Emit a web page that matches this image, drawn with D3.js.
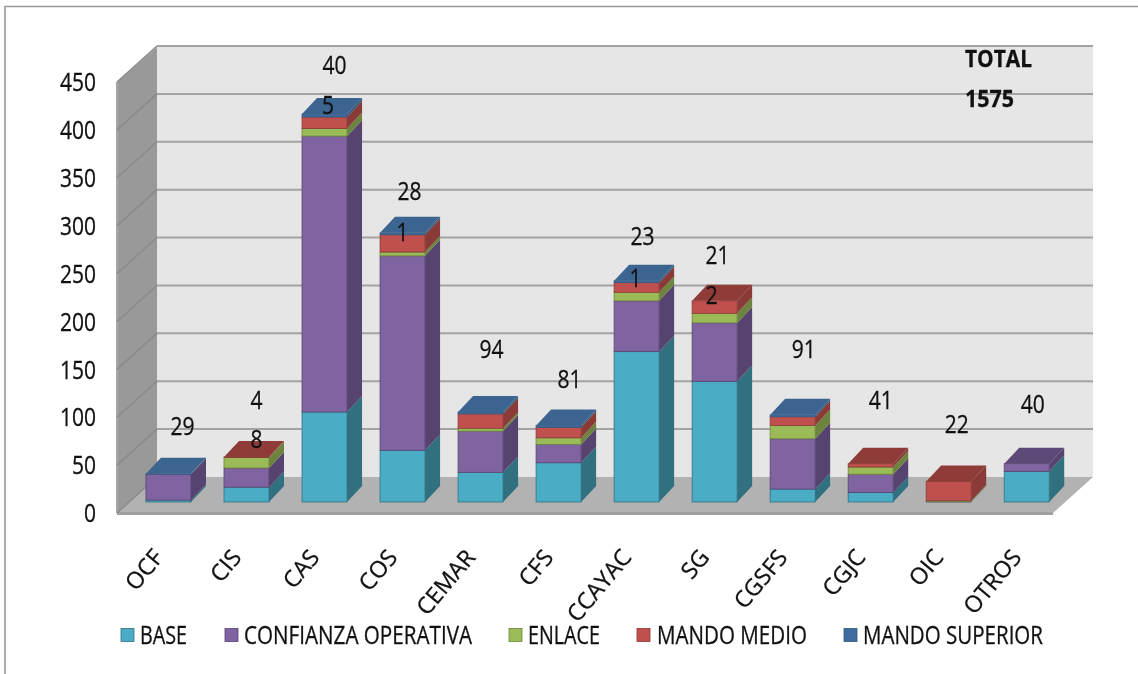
<!DOCTYPE html>
<html><head><meta charset="utf-8">
<script src="https://cdn.jsdelivr.net/npm/d3@7/dist/d3.min.js"></script>
<style>html,body{margin:0;padding:0;background:#fff;overflow:hidden}
svg{display:block;filter:blur(0.45px)}
text{font-family:"Open Sans",sans-serif;fill:#111;stroke:#111;stroke-width:.3px}</style>
</head><body><svg id="c" width="1138" height="674"></svg>
<script>
const categories = ["OCF","CIS","CAS","COS","CEMAR","CFS","CCAYAC","SG","CGSFS","CGJC","OIC","OTROS"];
const seriesNames = ["BASE","CONFIANZA OPERATIVA","ENLACE","MANDO MEDIO","MANDO SUPERIOR"];
const base      = [2,15.5,94,54,31,41,157,126,13.5,10,0,32];
const confianza = [27,20,288,203,43,19,53,61,52.5,19,0.3,8];
const enlace    = [0,11,8,4,3,7,9,10,14,7.5,1,0];
const medio     = [0,0.5,12,18,15,11,10,13,9,3.5,20,0];
const superior  = [0.4,0,3,2,2,2,2,0,2,0,0,0];
const topLabels = ["29","4","40","28","94","81","23","21","91","41","22","40"];
const topLabelLevels = [79,106.5,456,324,159,128,277,258,159,106,81,102];
const innerLabels = ["","8","5","1","","","1","2","","","",""];
const innerLabelLevels = [0,65,414,282,0,0,234,216,0,0,0,0];
const yTicks = [0,50,100,150,200,250,300,350,400,450];
const totalLines = ["TOTAL","1575"];

const colors = ["#4BACC6","#8064A2","#9BBB59","#C0504D","#3F6B9E"];
const sideColors = ["#30707F","#57436F","#6C843D","#8A3A37","#34597F"];
const topColors = ["#30707F","#5E4A78","#6C843D","#8F3B38","#3C6491"];
const legendGeom = [[121,140,47],[225,244,228],[509,528,72],[637,657,150],[844,863,180]];
const labelDx = [14,10,10,7,11,11,6,3,11,10,8,6];
const innerDx = [0,10,3.5,0,0,0,-1,-3,0,0,0,0];

const svg = d3.select("#c");
function squeeze(sel,f){ sel.each(function(){ const n=this.getComputedTextLength(); d3.select(this).attr("textLength",n*f).attr("lengthAdjust","spacingAndGlyphs"); }); return sel; }
svg.append("path").attr("d","M5,674V6.5H1138").attr("fill","none").attr("stroke","#999").attr("stroke-width",1.6);

const x0=117, xBack=157, dW=40, dH=36, yFloorFront=513, yTop=82;
const yAxisScale = d3.scaleLinear().domain([0,450]).range([yFloorFront,yTop]);
const xRight = 1053;
const g = svg.append("g");
g.append("polygon").attr("points",[[x0,yFloorFront],[xBack,yFloorFront-dH],[xBack,yTop-dH+1],[x0,yTop]].join(" ")).attr("fill","#999999");
g.append("polygon").attr("points",[[xBack,yFloorFront-dH],[xRight+dW,yFloorFront-dH],[xRight+dW,yTop-dH+1],[xBack,yTop-dH+1]].join(" ")).attr("fill","#E6E6E6");
g.append("polygon").attr("points",[[x0,yFloorFront],[xRight,yFloorFront],[xRight+dW,yFloorFront-dH],[xBack,yFloorFront-dH]].join(" ")).attr("fill","#B2B2B2");
g.append("line").attr("x1",x0).attr("x2",xRight).attr("y1",yFloorFront+.5).attr("y2",yFloorFront+.5).attr("stroke","#A0A0A0").attr("stroke-width",3);
g.append("line").attr("x1",x0).attr("x2",x0).attr("y1",yTop).attr("y2",yFloorFront).attr("stroke","#A6A6A6").attr("stroke-width",2);
yTicks.forEach(t=>{
  const y=yAxisScale(t);
  if(t>0) g.append("line").attr("x1",xBack).attr("x2",xRight+dW).attr("y1",y-dH).attr("y2",y-dH).attr("stroke","#A3A3A3").attr("stroke-width",2);
  g.append("line").attr("x1",x0).attr("y1",y).attr("x2",xBack).attr("y2",y-dH).attr("stroke","#8a8a8a").attr("stroke-width",1.5);
});
const axis = svg.append("g").attr("transform",`translate(103,0)`).call(d3.axisLeft(yAxisScale).tickValues(yTicks).tickSize(0).tickPadding(7));
axis.select(".domain").remove();
axis.selectAll("text").style("font-size","25px").style("font-family",'"Open Sans",sans-serif').attr("fill","#111").attr("dy","0.35em");
squeeze(axis.selectAll("text"),0.84);

const xBand = d3.scaleBand().domain(categories).range([129.6,1065.6]).paddingInner(33/78).paddingOuter(0.21);
const barW = xBand.bandwidth();
const y = d3.scaleLinear().domain([0,450]).range([502,502-431]);
const stackRows = categories.map((c,i)=>({cat:c,s0:base[i],s1:confianza[i],s2:enlace[i],s3:medio[i],s4:superior[i]}));
const stack = d3.stack().keys(["s0","s1","s2","s3","s4"])(stackRows);
const ddx=15, ddy=16;
const bars = svg.append("g");
categories.forEach((c,i)=>{
  const bx=xBand(c);
  let lastK=0;
  stack.forEach((layer,k)=>{
    const [a,b]=layer[i];
    if(b-a<=0) return;
    lastK=k;
    const ya=y(a), yb=y(b);
    bars.append("polygon").attr("points",[[bx+barW,ya],[bx+barW+ddx,ya-ddy],[bx+barW+ddx,yb-ddy],[bx+barW,yb]].join(" "))
      .attr("fill",sideColors[k]);
    bars.append("rect").attr("x",bx).attr("y",yb).attr("width",barW).attr("height",ya-yb)
      .attr("fill",colors[k]).attr("stroke",sideColors[k]).attr("stroke-width",.8);
  });
  const ty=y(stack[lastK][i][1]);
  bars.append("polygon").attr("points",[[bx,ty],[bx+barW,ty],[bx+barW+ddx,ty-ddy],[bx+ddx,ty-ddy]].join(" ")).attr("fill",topColors[lastK]);
});
const lab = svg.append("g").attr("text-anchor","middle").style("font-size","25px");
categories.forEach((c,i)=>{
  const cx=xBand(c)+barW/2;
  squeeze(lab.append("text").attr("x",cx+labelDx[i]).attr("y",y(topLabelLevels[i])).attr("dy","0.35em").text(topLabels[i]),0.84);
  if(innerLabels[i]) squeeze(lab.append("text").attr("x",cx+innerDx[i]).attr("y",y(innerLabelLevels[i])).attr("dy","0.35em").text(innerLabels[i]),0.84);
});
svg.append("text").attr("x",965).attr("y",67).style("font-size","23px").style("font-weight",700).attr("textLength",67).attr("lengthAdjust","spacingAndGlyphs").text(totalLines[0]);
svg.append("text").attr("x",965).attr("y",107).style("font-size","23px").style("font-weight",700).attr("textLength",49).attr("lengthAdjust","spacingAndGlyphs").text(totalLines[1]);
categories.forEach(c=>{
  const cx=xBand(c)+barW/2;
  svg.append("text").attr("text-anchor","end").style("font-size","23px")
    .attr("transform",`translate(${cx-4},${558}) rotate(-50)`).text(c);
});
seriesNames.forEach((n,i)=>{
  const [sx,tx,tw]=legendGeom[i];
  svg.append("rect").attr("x",sx).attr("y",628.5).attr("width",13).attr("height",13).attr("fill",colors[i]).attr("stroke",sideColors[i]).attr("stroke-width",.8);
  svg.append("text").attr("x",tx).attr("y",644).style("font-size","25px").attr("textLength",tw).attr("lengthAdjust","spacingAndGlyphs").text(n);
});
</script></body></html>
